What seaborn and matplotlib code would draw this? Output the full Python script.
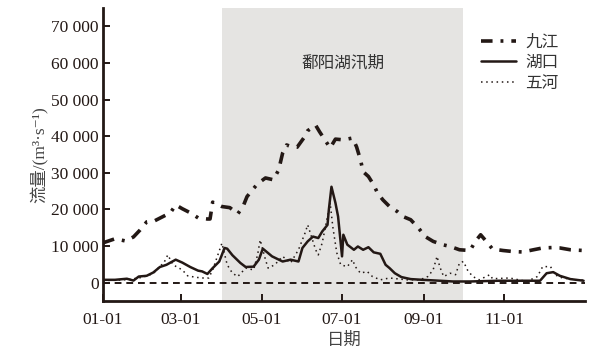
import numpy as np
import pandas as pd
import matplotlib
matplotlib.use("Agg")
import matplotlib.pyplot as plt
import seaborn as sns

# ---- data (day of year, discharge m3/s) ----
jj_day = [0, 9, 17, 23, 28, 33, 39, 45, 51, 55, 60, 66, 72, 79, 81, 83, 86, 90, 96, 102,
          106, 109, 113, 117, 123, 129, 133, 136, 139, 143, 147, 152, 155, 161, 164, 168,
          172, 176, 182, 189, 192, 195, 197, 201, 205, 208, 212, 217, 223, 227, 233, 239,
          244, 250, 257, 263, 270, 278, 282, 286, 291, 295, 303, 311, 318, 326, 333, 340,
          346, 354, 364]
jj_val = [10900, 12000, 11400, 12500, 14400, 16600, 16900, 18000, 19100, 21250, 20200,
          19100, 17700, 17400, 17400, 22000, 21500, 20800, 20500, 18800, 20800, 23500,
          25300, 27000, 28600, 28100, 30800, 35400, 37600, 37100, 37000, 39500, 41500,
          43000, 41200, 39000, 36800, 39200, 39000, 39500, 37100, 33500, 30300, 29000,
          26700, 24400, 22600, 20800, 19400, 18100, 17200, 14900, 12600, 11300, 10400,
          9900, 9000, 8800, 11300, 13100, 11000, 9200, 8800, 8500, 8400, 9000, 9500, 9600,
          9500, 9000, 8800]

hk_day = [0, 9, 18, 23, 27, 33, 38, 43, 48, 55, 60, 66, 72, 75, 79, 83, 88, 92, 94, 98,
          104, 108, 114, 118, 121, 128, 136, 142, 148, 151, 155, 159, 163, 166, 170, 171,
          173, 176, 178, 181, 182, 185, 190, 193, 197, 201, 205, 210, 214, 217, 221, 226,
          233, 242, 255, 265, 278, 300, 331, 336, 341, 346, 354, 364]
hk_val = [800, 800, 1100, 600, 1700, 1900, 2800, 4300, 4900, 6300, 5500, 4300, 3300, 3100,
          2400, 4000, 5800, 9500, 9300, 7500, 5400, 4300, 4400, 6300, 9300, 7200, 5800,
          6300, 5800, 9500, 11300, 12600, 12200, 14000, 15800, 19900, 26200, 21800, 18100,
          7200, 13100, 10400, 9000, 9900, 9000, 9700, 8300, 7900, 4900, 4000, 2600, 1550,
          1000, 800, 550, 350, 350, 550, 550, 2600, 2900, 1900, 1000, 550]

wh_day = [0, 10, 20, 30, 38, 43, 46, 49, 53, 60, 64, 70, 75, 80, 83, 90, 94, 98, 102, 108,
          114, 117, 119, 123, 125, 130, 136, 142, 148, 153, 155, 161, 163, 166, 170, 172,
          174, 177, 180, 185, 189, 191, 195, 200, 204, 210, 217, 230, 240, 246, 250, 253,
          255, 258, 263, 267, 270, 273, 276, 280, 285, 293, 295, 308, 321, 329, 333, 339,
          342, 348, 359, 364]
wh_val = [600, 700, 900, 1500, 2500, 4500, 5400, 7600, 4900, 3500, 1900, 1500, 1300, 1300,
          3500, 10800, 4900, 2600, 1700, 4000, 3500, 7600, 11700, 6300, 4000, 4900, 7200,
          5400, 9000, 13600, 15800, 9000, 7600, 10900, 18100, 21800, 15300, 8200, 4900,
          4400, 6300, 4400, 2600, 3100, 1700, 800, 1300, 800, 800, 1700, 3500, 7200, 4400,
          1700, 2600, 2200, 5400, 5800, 3500, 1700, 800, 2200, 1100, 1300, 350, 1700, 4400,
          4400, 2200, 1300, 800, 700]

series_names = ["九江", "湖口", "五河"]
tick_days = [0, 59, 120, 181, 243, 304]
tick_labels = ["01-01", "03-01", "05-01", "07-01", "09-01", "11-01"]
y_ticks = [0, 10000, 20000, 30000, 40000, 50000, 60000, 70000]
y_tick_labels = ["0", "10 000", "20 000", "30 000", "40 000", "50 000", "60 000", "70 000"]
flood_start, flood_end = 90, 273
flood_label = "鄱阳湖汛期"

df = pd.concat([
    pd.DataFrame({"day": jj_day, "flow": jj_val, "站点": series_names[0]}),
    pd.DataFrame({"day": hk_day, "flow": hk_val, "站点": series_names[1]}),
    pd.DataFrame({"day": wh_day, "flow": wh_val, "站点": series_names[2]}),
])

sns.set_theme(style="ticks")
plt.rcParams["font.family"] = ["Liberation Serif", "Noto Sans CJK SC", "DejaVu Sans"]

fig = plt.figure(figsize=(6.03, 3.61), dpi=100)
ax = fig.add_axes([0.171, 0.166, 0.799, 0.812])

ink = "#231815"
ax.axvspan(flood_start, flood_end, color="#e5e4e2", lw=0, zorder=0)
ax.axhline(0, color=ink, lw=1.4, ls=(0, (3.5, 2.5)), zorder=1)

styles = {
    series_names[0]: dict(lw=2.6, ls=(0, (3.2, 2.2, 0.8, 2.2))),
    series_names[1]: dict(lw=1.8, ls="-"),
    series_names[2]: dict(lw=1.1, ls=(0, (1, 2.4))),
}
for name in series_names:
    sub = df[df["站点"] == name]
    sns.lineplot(data=sub, x="day", y="flow", ax=ax, color=ink, label=name,
                 estimator=None, sort=True, zorder=3, **styles[name])

ax.set_xlim(0, 365)
ax.set_ylim(-5000, 75000)
ax.set_xticks(tick_days)
ax.set_xticklabels(tick_labels)
ax.set_yticks(y_ticks)
ax.set_yticklabels(y_tick_labels)
ax.tick_params(axis="both", direction="in", length=5, width=1.4, colors=ink,
               labelsize=12.5, labelcolor=ink)
ax.tick_params(axis="x", pad=8)
ax.tick_params(axis="y", pad=3)
for s in ["top", "right"]:
    ax.spines[s].set_visible(False)
for s in ["left", "bottom"]:
    ax.spines[s].set_linewidth(2)
    ax.spines[s].set_color(ink)

ax.set_xlabel("日期", fontsize=12.5, color="#444444",
              family=["Noto Sans CJK SC", "DejaVu Sans"], labelpad=2)
ax.set_ylabel("流量/(m³·s⁻¹)", fontsize=12.5, color="#444444", labelpad=2,
              family=["Liberation Serif", "Noto Sans CJK SC", "DejaVu Sans"])

ax.text((flood_start + flood_end) / 2, 60000, flood_label, ha="center", va="center",
        fontsize=12, color="#333333", family=["Noto Sans CJK SC", "DejaVu Sans"])

leg = ax.legend(loc="upper left", bbox_to_anchor=(0.77, 0.935), frameon=False,
                handlelength=2.1, handletextpad=0.55, labelspacing=0.22,
                borderaxespad=0, prop={"family": ["Noto Sans CJK SC"], "size": 12})
for t in leg.get_texts():
    t.set_color("#333333")

fig.savefig("out.png", dpi=100)
